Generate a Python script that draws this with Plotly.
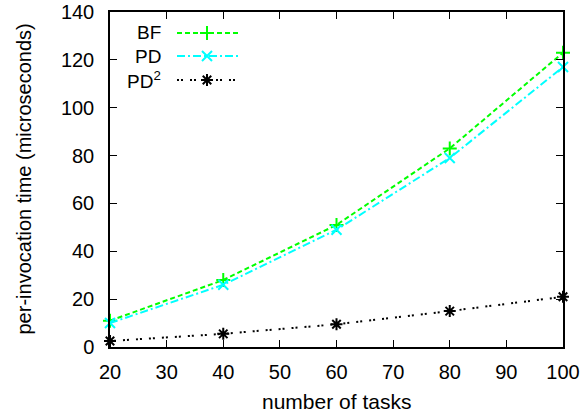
import plotly.graph_objects as go

tasks = [20, 40, 60, 80, 100]
bf = [11, 28, 51, 83, 123]
pd_ = [10, 26, 49, 79, 117]
pd2 = [2.5, 5.5, 9.5, 15, 21]

names = ["BF", "PD", "PD<sup>2</sup>"]
colors = ["#00ff00", "#00ffff", "#000000"]
dashes = ["5px,3px", "8px,3px,2px,3px", "2px,2px,2px,7px"]
symbols = ["cross-thin", "x-thin", "asterisk"]
series = [bf, pd_, pd2]

W, H = 585, 417
L, R, T, B = 110, 22, 12, 70
pw, ph = W - L - R, H - T - B
FONT = "Liberation Sans, Arial, sans-serif"

fig = go.Figure()
for s, c, d, m in zip(series, colors, dashes, symbols):
    fig.add_trace(go.Scatter(
        x=tasks, y=s, mode="lines+markers",
        line=dict(color=c, width=2, dash=d),
        marker=dict(symbol=m, size=10, color=c, line=dict(color=c, width=2)),
        showlegend=False, cliponaxis=False,
    ))

# custom gnuplot-style legend (text left, sample right)
rows_px = [33, 56, 80]
text_right = (163 - L) / pw
line_x0 = (177 - L) / pw
line_x1 = (238 - L) / pw
mark_x = (207 - L) / pw
for name, c, d, m, ry in zip(names, colors, dashes, symbols, rows_px):
    yp = (H - B - ry) / ph
    fig.add_annotation(x=text_right, y=yp, xref="paper", yref="paper", text=name,
                       showarrow=False, xanchor="right", yanchor="middle",
                       font=dict(size=19, color="black", family=FONT))
    fig.add_shape(type="line", xref="paper", yref="paper", x0=line_x0, x1=line_x1,
                  y0=yp, y1=yp, line=dict(color=c, width=2, dash=d))
    fig.add_trace(go.Scatter(x=[mark_x], y=[yp], xaxis="x2", yaxis="y2", mode="markers",
                             marker=dict(symbol=m, size=10, color=c, line=dict(color=c, width=2)),
                             showlegend=False, hoverinfo="skip", cliponaxis=False))

# axis titles as annotations placed like gnuplot's
fig.add_annotation(x=0.5, y=(H - B - 401) / ph, xref="paper", yref="paper",
                   text="number of tasks", showarrow=False, xanchor="center", yanchor="middle",
                   font=dict(size=21, color="black", family=FONT))
fig.add_annotation(x=(23 - L) / pw, y=0.5, xref="paper", yref="paper", textangle=-90,
                   text="per-invocation time (microseconds)", showarrow=False,
                   xanchor="center", yanchor="middle",
                   font=dict(size=20, color="black", family=FONT))

fig.update_layout(
    width=W, height=H,
    margin=dict(l=L, r=R, t=T, b=B),
    plot_bgcolor="white", paper_bgcolor="white",
    font=dict(family=FONT, size=20, color="black"),
    xaxis=dict(range=[20, 100], tickvals=list(range(20, 101, 10)), ticks="inside",
               ticklen=7, tickwidth=1, tickcolor="black", mirror="ticks", showline=True,
               linecolor="black", linewidth=1.5, showgrid=False, zeroline=False,
               automargin=False, ticklabelstandoff=6,
               tickfont=dict(size=20)),
    yaxis=dict(range=[0, 140], tickvals=list(range(0, 141, 20)), ticks="inside",
               ticklen=7, tickwidth=1, tickcolor="black", mirror="ticks", showline=True,
               linecolor="black", linewidth=1.5, showgrid=False, zeroline=False,
               automargin=False, ticklabelstandoff=10,
               tickfont=dict(size=20)),
    xaxis2=dict(overlaying="x", range=[0, 1], visible=False),
    yaxis2=dict(overlaying="y", range=[0, 1], visible=False),
)

fig.write_html("out.html")
